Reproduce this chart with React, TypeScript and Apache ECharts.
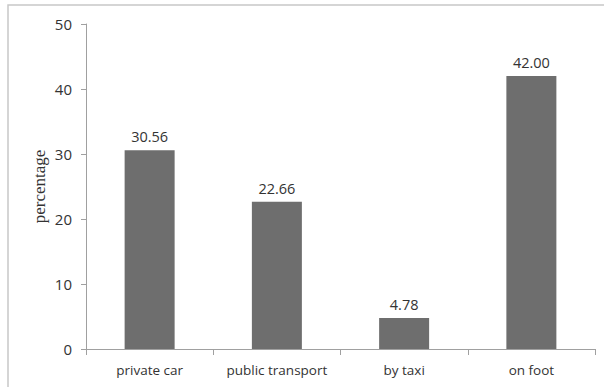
import React, { useEffect, useRef } from "react";
import * as echarts from "echarts";

// Share of trips by mode of transport (percent)
const categories: string[] = ["private car", "public transport", "by taxi", "on foot"];
const percentages: number[] = [30.56, 22.66, 4.78, 42.0];
const yMin = 0;
const yMax = 50;
const yStep = 10;

export default function App() {
  const ref = useRef<HTMLDivElement>(null);

  useEffect(() => {
    if (!ref.current) return;
    const chart = echarts.init(ref.current, null, { renderer: "svg" });
    const sans = "'Open Sans', 'Noto Sans', sans-serif";
    chart.setOption({
      animation: false,
      backgroundColor: "#ffffff",
      graphic: [
        {
          type: "rect",
          shape: { x: 8, y: 5, width: 620, height: 400 },
          style: { fill: "none", stroke: "#c8c8c8", lineWidth: 1.5 },
          silent: true,
        },
      ],
      grid: { left: 86, right: 9, top: 24, bottom: 38 },
      xAxis: {
        type: "category",
        data: categories,
        axisLine: { lineStyle: { color: "#a0a0a0", width: 1 } },
        axisTick: { show: true, alignWithLabel: false, length: 6, lineStyle: { color: "#a0a0a0" } },
        axisLabel: { interval: 0, color: "#333333", fontFamily: sans, fontSize: 13.5, margin: 14 },
      },
      yAxis: {
        type: "value",
        min: yMin,
        max: yMax,
        interval: yStep,
        name: "percentage",
        nameLocation: "middle",
        nameGap: 38,
        nameRotate: 90,
        nameMoveOverlap: false,
        nameTextStyle: { color: "#333333", fontFamily: "'Liberation Serif', 'DejaVu Serif', serif", fontSize: 17 },
        axisLine: { show: true, lineStyle: { color: "#a0a0a0", width: 1 } },
        axisTick: { show: true, inside: false, length: 5, lineStyle: { color: "#a0a0a0" } },
        splitLine: { show: false },
        axisLabel: { color: "#333333", fontFamily: sans, fontSize: 15, margin: 14 },
      },
      series: [
        {
          type: "bar",
          data: percentages,
          barWidth: 50,
          itemStyle: { color: "#6e6e6e" },
          label: {
            show: true,
            position: "top",
            distance: 6,
            color: "#333333",
            fontFamily: sans,
            fontSize: 14.5,
            formatter: (p: { value: number }) => p.value.toFixed(2),
          },
        },
      ],
    });
    return () => chart.dispose();
  }, []);

  return (
    <div
      ref={ref}
      style={{ position: "fixed", left: 0, top: 0, width: 604, height: 387, background: "#ffffff" }}
    />
  );
}
